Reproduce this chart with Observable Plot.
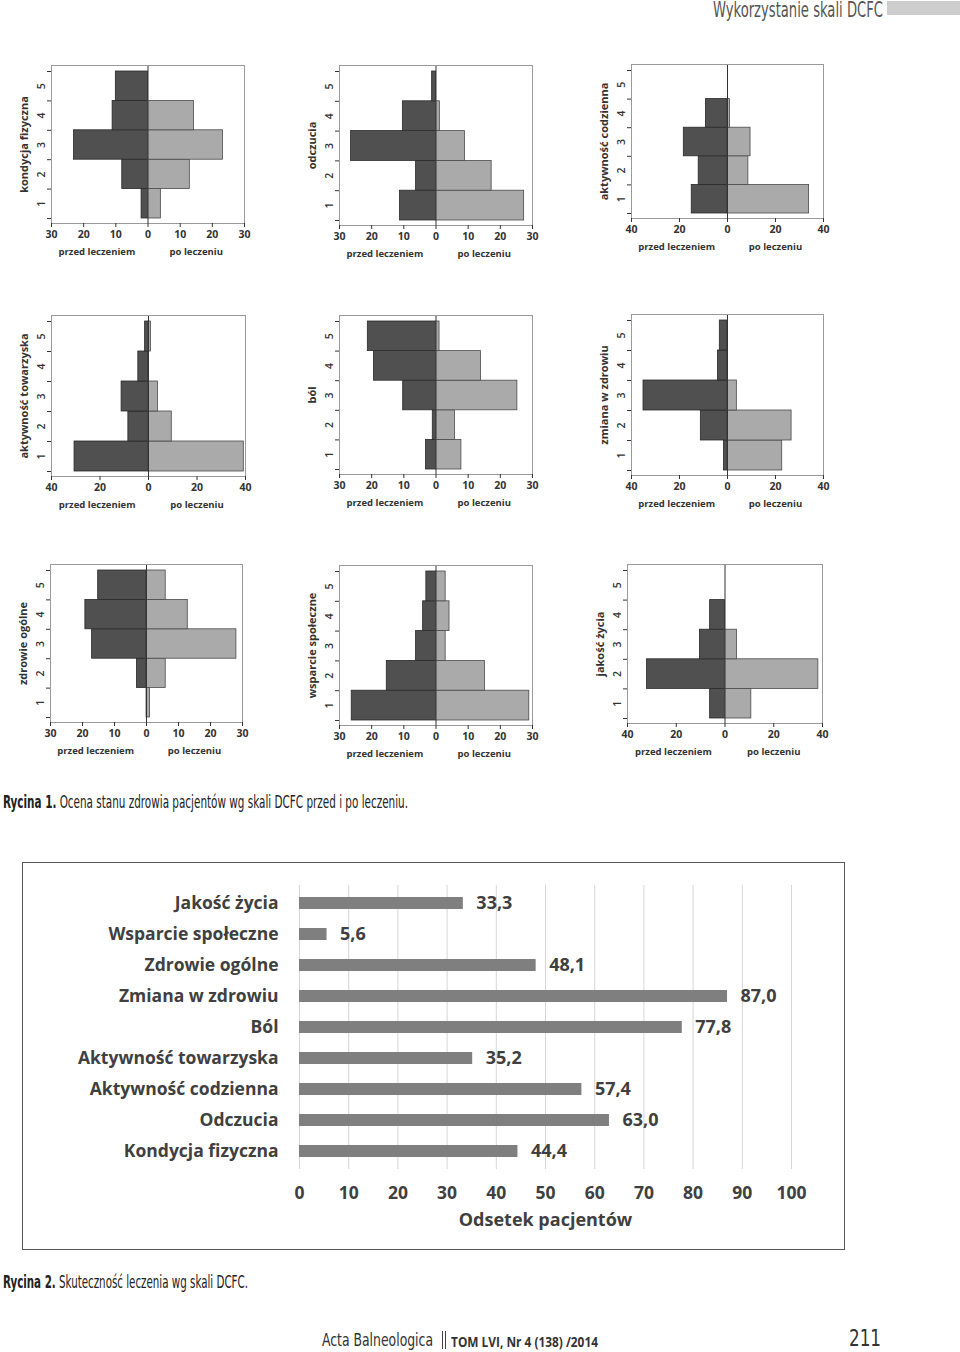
<!DOCTYPE html>
<html><head><meta charset="utf-8">
<script src="https://cdn.jsdelivr.net/npm/d3@7"></script>
<script src="https://cdn.jsdelivr.net/npm/@observablehq/plot@0.6"></script>
<style>
html,body{margin:0;padding:0;background:#fff;}
body{width:960px;height:1352px;position:relative;overflow:hidden;font-family:"Liberation Sans Narrow","DejaVu Sans Condensed","Liberation Sans",sans-serif;color:#333;}
.abs{position:absolute;white-space:nowrap;}
.fit{transform-origin:0 0;display:inline-block;}
svg{overflow:visible;}
</style></head><body>
<script>
// ---------- DATA ----------
const levels = [1, 2, 3, 4, 5];
const panelNames = ["kondycja fizyczna", "odczucia", "aktywność codzienna",
  "aktywność towarzyska", "ból", "zmiana w zdrowiu",
  "zdrowie ogólne", "wsparcie społeczne", "jakość życia"];
const panelMax = [30, 30, 40, 40, 30, 40, 30, 30, 40];
const sideLabels = ["przed leczeniem", "po leczeniu"];
// values per level 1..5
const beforeKondycja = [2, 8, 23, 11, 10];
const afterKondycja = [4, 13, 23.3, 14.3, 0];
const beforeOdczucia = [11.2, 6.2, 26.4, 10.3, 1.2];
const afterOdczucia = [27.4, 17.3, 9, 1.2, 0];
const beforeCodzienna = [14.9, 12, 18.2, 9, 0];
const afterCodzienna = [34, 8.7, 9.6, 1, 0];
const beforeTowarzyska = [30.5, 8.3, 11.1, 4.2, 1.4];
const afterTowarzyska = [39.3, 9.6, 3.9, 0, 1];
const beforeBol = [3.1, 1, 10.2, 19.3, 21.2];
const afterBol = [7.9, 5.9, 25.3, 14, 1.1];
const beforeZmiana = [1.5, 11.1, 35, 4, 3.2];
const afterZmiana = [22.8, 26.7, 3.9, 0, 0];
const beforeZdrowie = [0, 3, 17, 19.1, 15.1];
const afterZdrowie = [1.1, 6, 28.1, 12.9, 6];
const beforeWsparcie = [26.2, 15.3, 6.2, 4, 3];
const afterWsparcie = [29, 15.2, 3, 4.2, 3];
const beforeJakosc = [6.1, 32, 10.3, 6.1, 0];
const afterJakosc = [10.8, 38.3, 4.9, 0, 0];
const beforeSets = [beforeKondycja, beforeOdczucia, beforeCodzienna, beforeTowarzyska, beforeBol, beforeZmiana, beforeZdrowie, beforeWsparcie, beforeJakosc];
const afterSets = [afterKondycja, afterOdczucia, afterCodzienna, afterTowarzyska, afterBol, afterZmiana, afterZdrowie, afterWsparcie, afterJakosc];

const effCategories = ["Jakość życia", "Wsparcie społeczne", "Zdrowie ogólne", "Zmiana w zdrowiu", "Ból",
  "Aktywność towarzyska", "Aktywność codzienna", "Odczucia", "Kondycja fizyczna"];
const effValues = [33.3, 5.6, 48.1, 87.0, 77.8, 35.2, 57.4, 63.0, 44.4];
const effTicks = [0, 10, 20, 30, 40, 50, 60, 70, 80, 90, 100];
const effAxisTitle = "Odsetek pacjentów";

// ---------- LAYOUT ----------
const panelFrames = [
  [51, 65, 244, 223], [339, 65, 532, 225], [631, 64, 823, 218],
  [51, 315, 245, 476], [339, 315, 532, 474], [631, 314, 823, 475],
  [50, 564, 242, 722], [339, 565, 532, 725], [627, 564, 822, 723]
];

function place(el, left, top) {
  el.style.position = "absolute";
  el.style.left = left + "px";
  el.style.top = top + "px";
  document.body.appendChild(el);
}

const smallFont = {fontFamily: "'Open Sans', sans-serif", fontSize: "10px", fontWeight: 700, color: "#333", background: "transparent"};

panelFrames.forEach(([L, T, R, B], i) => {
  const ml = 40, mr = 8, mt = 6, mb = 46;
  const m = panelMax[i];
  const rows = levels.map((k, j) => ({k, before: beforeSets[i][j], after: afterSets[i][j]}));
  const tickStep = m === 40 ? 20 : 10;
  const xt = d3.range(-m, m + 1, tickStep);
  const svg = Plot.plot({
    width: R - L + ml + mr,
    height: B - T + mt + mb,
    marginLeft: ml, marginRight: mr, marginTop: mt, marginBottom: mb,
    style: smallFont,
    x: {domain: [-m, m]},
    y: {domain: [0.5, 5.5], insetTop: 6, insetBottom: 5},
    marks: [
      Plot.rect(rows.filter(d => d.before > 0), {x1: d => -d.before, x2: 0, y1: d => d.k - 0.5, y2: d => d.k + 0.5, fill: "#505050", stroke: "#2a2a2a", strokeWidth: 0.8}),
      Plot.rect(rows.filter(d => d.after > 0), {x1: 0, x2: d => d.after, y1: d => d.k - 0.5, y2: d => d.k + 0.5, fill: "#aaaaaa", stroke: "#4a4a4a", strokeWidth: 0.8}),
      Plot.ruleX([0], {stroke: "#333", strokeWidth: 1}),
      Plot.frame({stroke: "#9a9a9a"}),
      Plot.axisX({ticks: xt, tickFormat: d => String(Math.abs(d)), tickSize: 4, tickPadding: 3, label: null, fontSize: 10.5}),
      Plot.axisY({ticks: [0.5, 1.5, 2.5, 3.5, 4.5, 5.5], tickFormat: () => "", tickSize: 4, label: null}),
      Plot.text(levels, {y: d => d, text: d => String(d), frameAnchor: "left", textAnchor: "middle", dx: -10, rotate: -90, fontWeight: 600, fontSize: 10.5}),
      Plot.text([panelNames[i]], {frameAnchor: "left", textAnchor: "middle", dx: -27, rotate: -90, fontSize: 11}),
      Plot.text(sideLabels, {x: (d, j) => j === 0 ? -0.53 * m : 0.5 * m, text: d => d, frameAnchor: "bottom", textAnchor: "middle", dy: 31, fontSize: 9.5})
    ]
  });
  place(svg, L - ml, T - mt);
});

// ---------- Figure 2 ----------
const box = document.createElement("div");
box.style.cssText = "width:823px;height:388px;border:1px solid #555;box-sizing:border-box;";
place(box, 22, 862);

const effRows = effCategories.map((c, i) => ({c, v: effValues[i]}));
const fig2 = Plot.plot({
  width: 820, height: 385,
  marginLeft: 276, marginRight: 52, marginTop: 22, marginBottom: 79,
  style: {fontFamily: "'Open Sans', sans-serif", fontSize: "17.5px", fontWeight: 700, color: "#404040", background: "transparent"},
  x: {domain: [0, 100]},
  y: {domain: effCategories, paddingInner: 0.62, paddingOuter: 0.31},
  marks: [
    Plot.gridX(effTicks, {stroke: "#d6d6d6", strokeOpacity: 1}),
    Plot.barX(effRows, {x: "v", y: "c", fill: "#7f7f7f"}),
    Plot.text(effRows, {x: "v", y: "c", text: d => d.v.toFixed(1).replace(".", ","), dx: 13, textAnchor: "start", fontSize: 18}),
    Plot.axisX({ticks: effTicks, tickSize: 0, tickPadding: 17, label: null, fontSize: 17.5}),
    Plot.axisY({tickSize: 0, tickPadding: 21, label: null, fontSize: 17.5}),
    Plot.text([effAxisTitle], {frameAnchor: "bottom", textAnchor: "middle", dy: 56, fontSize: 18})
  ]
});
place(fig2, 23, 863);

// ---------- Page texts ----------
function fitText(html, left, top, width, size, extra) {
  const d = document.createElement("div");
  d.className = "abs";
  d.innerHTML = `<span class="fit" style="font-size:${size}px;${extra || ""}">${html}</span>`;
  place(d, left, top);
  const s = d.firstChild;
  const w = s.getBoundingClientRect().width;
  s.style.transform = `scaleX(${width / w})`;
  return d;
}
fitText("Wykorzystanie skali DCFC", 713, -2, 170, 21, "color:#555;");
const bar = document.createElement("div");
bar.style.cssText = "width:73px;height:14px;background:#cdcdcd;";
place(bar, 887, 1);

fitText("<b>Rycina 1.</b> Ocena stanu zdrowia pacjentów wg skali DCFC przed i po leczeniu.", 3, 792, 405, 17, "color:#222;");
fitText("<b>Rycina 2.</b> Skuteczność leczenia wg skali DCFC.", 3, 1272, 245, 17, "color:#222;");

fitText("Acta Balneologica", 322, 1330, 111, 17, "color:#333;");
const l1 = document.createElement("div"); l1.style.cssText = "width:1px;height:18px;background:#444;"; place(l1, 442, 1331);
const l2 = document.createElement("div"); l2.style.cssText = "width:1px;height:18px;background:#444;"; place(l2, 445, 1331);
fitText("<b>TOM LVI, Nr 4 (138) /2014</b>", 451, 1332, 147, 14, "color:#333;font-family:'Open Sans',sans-serif;");
fitText("211", 849, 1325, 32, 23, "color:#333;");
</script>
</body></html>
